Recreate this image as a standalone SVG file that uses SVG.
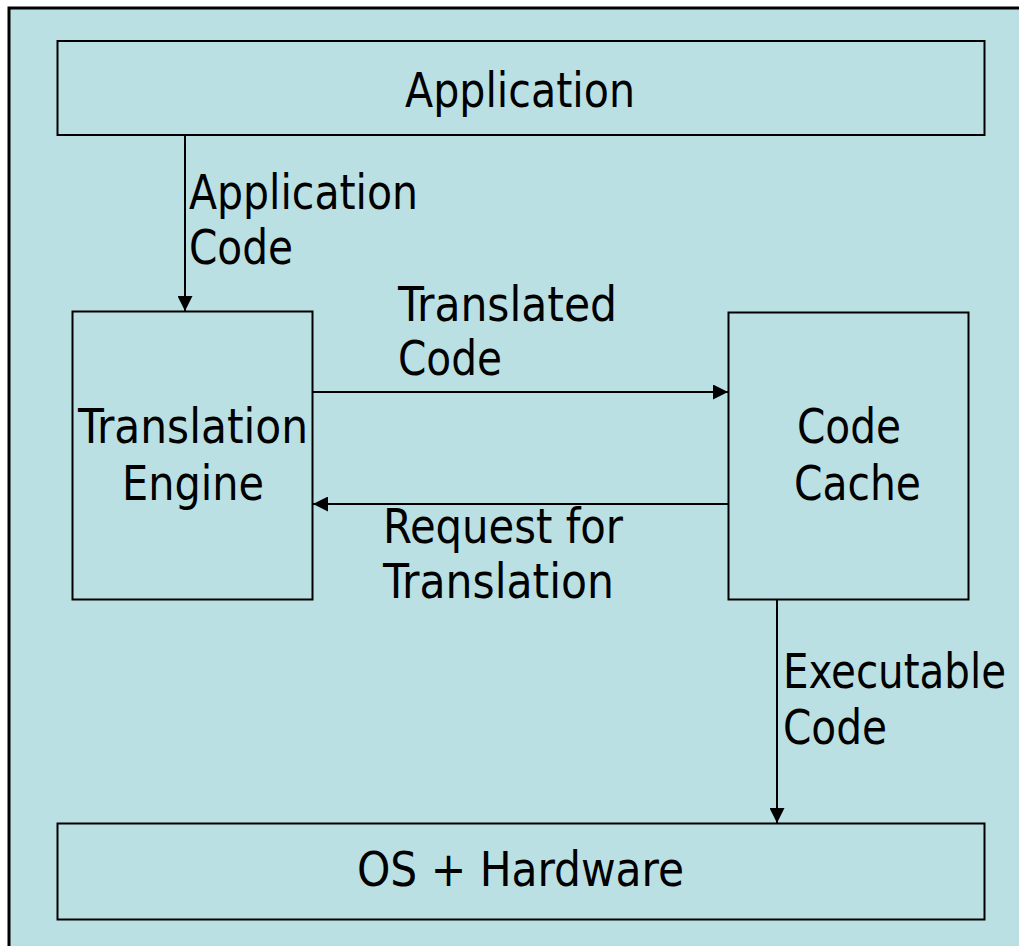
<svg xmlns="http://www.w3.org/2000/svg" width="1019" height="946" viewBox="0 0 1019 946">
  <style>
    .frame { fill: #BAE0E3; stroke: #000; stroke-width: 3; }
    .box { fill: #BAE0E3; stroke: #000; stroke-width: 2; }
    .wire { fill: none; stroke: #000; stroke-width: 2; }
    text { font-family: "DejaVu Sans Condensed", "DejaVu Sans", sans-serif; font-size: 48px; fill: #000; }
  </style>
  <defs>
    <marker id="arrow" viewBox="0 0 15 15" refX="15" refY="7.5" markerWidth="15" markerHeight="15" markerUnits="userSpaceOnUse" orient="auto">
      <path d="M0,0 L15,7.5 L0,15 Z" fill="#000"/>
    </marker>
  </defs>

  <!-- background panel -->
  <rect class="frame" x="9" y="8" width="1030" height="960"/>

  <g id="application">
    <rect class="box" x="57.5" y="41" width="927" height="94"/>
    <text x="405" y="107" textLength="230" lengthAdjust="spacingAndGlyphs">Application</text>
  </g>

  <g id="translation-engine">
    <rect class="box" x="72.5" y="311.5" width="240" height="288"/>
    <text x="78" y="443" textLength="230" lengthAdjust="spacingAndGlyphs">Translation</text>
    <text x="122" y="500" textLength="142" lengthAdjust="spacingAndGlyphs">Engine</text>
  </g>

  <g id="code-cache">
    <rect class="box" x="728.5" y="312.5" width="240" height="287"/>
    <text x="797" y="443" textLength="104" lengthAdjust="spacingAndGlyphs">Code</text>
    <text x="794" y="500" textLength="127" lengthAdjust="spacingAndGlyphs">Cache</text>
  </g>

  <g id="os-hardware">
    <rect class="box" x="57.5" y="823.5" width="927" height="96"/>
    <text x="357" y="886" textLength="327" lengthAdjust="spacingAndGlyphs">OS + Hardware</text>
  </g>

  <g id="connectors">
    <line class="wire" x1="185" y1="136" x2="185" y2="311" marker-end="url(#arrow)"/>
    <line class="wire" x1="313" y1="392" x2="728" y2="392" marker-end="url(#arrow)"/>
    <line class="wire" x1="728" y1="504" x2="313" y2="504" marker-end="url(#arrow)"/>
    <line class="wire" x1="777" y1="600" x2="777" y2="823" marker-end="url(#arrow)"/>

    <text x="189" y="209" textLength="229" lengthAdjust="spacingAndGlyphs">Application</text>
    <text x="189" y="264" textLength="104" lengthAdjust="spacingAndGlyphs">Code</text>

    <text x="398" y="321" textLength="219" lengthAdjust="spacingAndGlyphs">Translated</text>
    <text x="398" y="375" textLength="104" lengthAdjust="spacingAndGlyphs">Code</text>

    <text x="383" y="543" textLength="240" lengthAdjust="spacingAndGlyphs">Request for</text>
    <text x="383" y="598" textLength="231" lengthAdjust="spacingAndGlyphs">Translation</text>

    <text x="783" y="688" textLength="223" lengthAdjust="spacingAndGlyphs">Executable</text>
    <text x="783" y="744" textLength="104" lengthAdjust="spacingAndGlyphs">Code</text>
  </g>
</svg>
